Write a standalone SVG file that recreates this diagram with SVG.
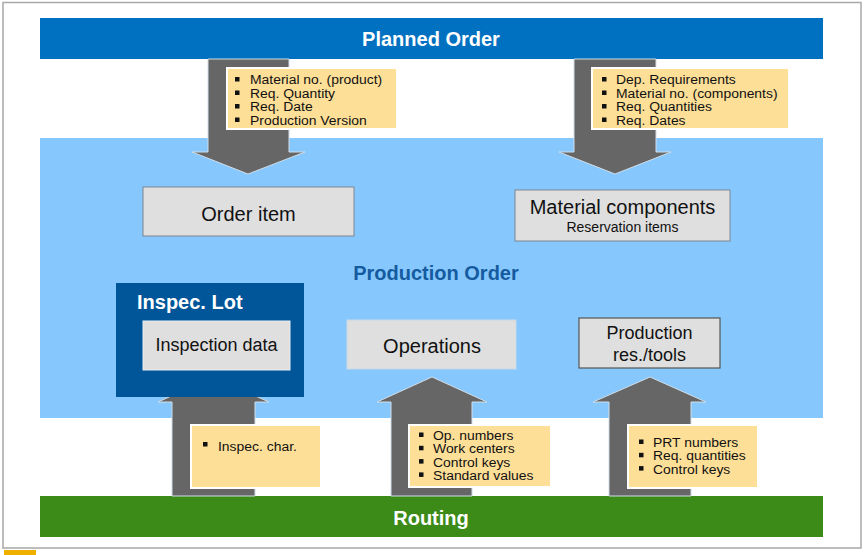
<svg xmlns="http://www.w3.org/2000/svg" width="865" height="555" viewBox="0 0 865 555">
<style>
text{font-family:"Liberation Sans",Arial,sans-serif;fill:#111}
.hdr{font-weight:bold;font-size:20px;fill:#fff;text-anchor:middle}
.box{fill:#dfdfdf;stroke:#7a8590;stroke-width:1}
.lbl{font-size:20px;text-anchor:middle}
.note{fill:#fddf98;stroke:#fff;stroke-width:2}
.blt{font-size:12px}
.arr{fill:#666;stroke:#d0dde8;stroke-width:1}
.sq{fill:#111}
</style>
<rect x="0" y="0" width="865" height="555" fill="#fff"/>
<rect x="3" y="2.5" width="858" height="545.5" fill="none" stroke="#a8a8a8" stroke-width="1.5"/>
<rect x="4" y="550" width="32" height="5" fill="#f0b000"/>

<g id="planned-order">
<rect x="40" y="18" width="783" height="41" fill="#0070c0"/>
<text class="hdr" x="431" y="46">Planned Order</text>
</g>

<g id="production-order">
<rect x="40" y="138" width="783" height="280" fill="#86c8fd"/>
<text x="436" y="280" font-size="20" font-weight="bold" text-anchor="middle" style="fill:#155b9f">Production Order</text>
</g>

<g id="routing">
<rect x="40" y="496" width="783" height="41" fill="#3c8a18"/>
<text class="hdr" x="431" y="525">Routing</text>
</g>

<g id="connectors">
<polygon class="arr" points="208,59 289,59 289,152 305,152 248,174 192,152 208,152"/>
<polygon class="arr" points="574,59 656,59 656,152 671,152 615,174 559,152 574,152"/>
<polygon class="arr" points="172,496 255,496 255,402 269,402 213,377 158,402 172,402"/>
<polygon class="arr" points="391,496 472,496 472,402 487,402 432,377 377,402 391,402"/>
<polygon class="arr" points="609,496 691,496 691,402 706,402 650,377 593,402 609,402"/>
</g>

<g id="note-planned-1">
<rect class="note" x="227" y="68" width="170" height="61"/>
<rect class="sq" x="235" y="77" width="4.5" height="4.5"/>
<rect class="sq" x="235" y="90.5" width="4.5" height="4.5"/>
<rect class="sq" x="235" y="104" width="4.5" height="4.5"/>
<rect class="sq" x="235" y="117.5" width="4.5" height="4.5"/>
<text class="blt" transform="translate(250,84) scale(1.16,1)">Material no. (product)</text>
<text class="blt" transform="translate(250,97.7) scale(1.16,1)">Req. Quantity</text>
<text class="blt" transform="translate(250,111.4) scale(1.16,1)">Req. Date</text>
<text class="blt" transform="translate(250,125.1) scale(1.16,1)">Production Version</text>
</g>

<g id="note-planned-2">
<rect class="note" x="592" y="68" width="197" height="61"/>
<rect class="sq" x="602" y="77" width="4.5" height="4.5"/>
<rect class="sq" x="602" y="90.5" width="4.5" height="4.5"/>
<rect class="sq" x="602" y="104" width="4.5" height="4.5"/>
<rect class="sq" x="602" y="117.5" width="4.5" height="4.5"/>
<text class="blt" transform="translate(616,84) scale(1.16,1)">Dep. Requirements</text>
<text class="blt" transform="translate(616,97.7) scale(1.16,1)">Material no. (components)</text>
<text class="blt" transform="translate(616,111.4) scale(1.16,1)">Req. Quantities</text>
<text class="blt" transform="translate(616,125.1) scale(1.16,1)">Req. Dates</text>
</g>

<g id="order-item">
<rect class="box" x="143" y="187" width="211" height="49"/>
<text class="lbl" x="248.5" y="221">Order item</text>
</g>

<g id="material-components">
<rect class="box" x="515" y="190" width="215" height="51"/>
<text class="lbl" x="622.5" y="214">Material components</text>
<text x="622.5" y="232" font-size="14" text-anchor="middle">Reservation items</text>
</g>

<g id="inspec-lot">
<rect x="116" y="283" width="188" height="114" fill="#005699"/>
<text x="137" y="309" font-size="20" font-weight="bold" style="fill:#fff">Inspec. Lot</text>
<g id="inspection-data">
<rect x="143" y="321" width="147" height="49" fill="#dfdfdf" stroke="#e8eef4" stroke-width="1"/>
<text x="216.5" y="351" font-size="18" text-anchor="middle">Inspection data</text>
</g>
</g>

<g id="operations">
<rect x="347" y="320" width="169" height="49" fill="#dfdfdf" stroke="#c8d8e8" stroke-width="1"/>
<text class="lbl" x="432" y="353">Operations</text>
</g>

<g id="production-tools">
<rect x="579" y="318" width="141" height="50" fill="#dfdfdf" stroke="#555" stroke-width="1.2"/>
<text x="649.5" y="339" font-size="18" text-anchor="middle">Production</text>
<text x="649.5" y="361" font-size="18" text-anchor="middle">res./tools</text>
</g>

<g id="note-routing-1">
<rect class="note" x="191" y="425" width="130" height="63"/>
<rect class="sq" x="203" y="442" width="4.5" height="4.5"/>
<text class="blt" transform="translate(218,451) scale(1.16,1)">Inspec. char.</text>
</g>

<g id="note-routing-2">
<rect class="note" x="409" y="425" width="142" height="62"/>
<rect class="sq" x="419" y="432.5" width="4.5" height="4.5"/>
<rect class="sq" x="419" y="445.8" width="4.5" height="4.5"/>
<rect class="sq" x="419" y="459.1" width="4.5" height="4.5"/>
<rect class="sq" x="419" y="472.4" width="4.5" height="4.5"/>
<text class="blt" transform="translate(433,440) scale(1.16,1)">Op. numbers</text>
<text class="blt" transform="translate(433,453.4) scale(1.16,1)">Work centers</text>
<text class="blt" transform="translate(433,466.8) scale(1.16,1)">Control keys</text>
<text class="blt" transform="translate(433,480.2) scale(1.16,1)">Standard values</text>
</g>

<g id="note-routing-3">
<rect class="note" x="628" y="425" width="130" height="63"/>
<rect class="sq" x="639" y="439.5" width="4.5" height="4.5"/>
<rect class="sq" x="639" y="452.8" width="4.5" height="4.5"/>
<rect class="sq" x="639" y="466.1" width="4.5" height="4.5"/>
<text class="blt" transform="translate(653,447) scale(1.16,1)">PRT numbers</text>
<text class="blt" transform="translate(653,460.4) scale(1.16,1)">Req. quantities</text>
<text class="blt" transform="translate(653,473.8) scale(1.16,1)">Control keys</text>
</g>
</svg>
